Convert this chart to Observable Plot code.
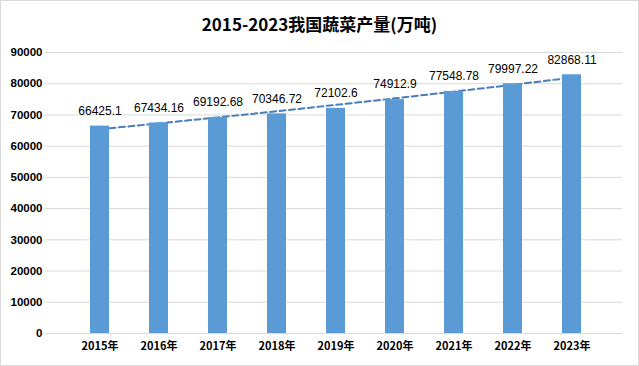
<!DOCTYPE html>
<html>
<head>
<meta charset="utf-8">
<script src="https://cdn.jsdelivr.net/npm/d3@7"></script>
<script src="https://cdn.jsdelivr.net/npm/@observablehq/plot@0.6"></script>
<style>
  html, body { margin: 0; padding: 0; background: #fff; }
  #wrap { position: relative; width: 639px; height: 366px; box-sizing: border-box; border: 1px solid #d9d9d9; background: #fff; overflow: hidden; }
  #title { height: 39px; box-sizing: border-box; padding-top: 10px; line-height: 22px; text-align: center; font: bold 17px "Noto Sans CJK SC", "Liberation Sans", sans-serif; color: #000; }
  #chart svg { display: block; }
</style>
</head>
<body>
<div id="wrap">
  <div id="title">2015-2023我国蔬菜产量(万吨)</div>
  <div id="chart"></div>
</div>
<script>
const years = ["2015年", "2016年", "2017年", "2018年", "2019年", "2020年", "2021年", "2022年", "2023年"];
const values = [66425.1, 67434.16, 69192.68, 70346.72, 72102.6, 74912.9, 77548.78, 79997.22, 82868.11];
const labels = ["66425.1", "67434.16", "69192.68", "70346.72", "72102.6", "74912.9", "77548.78", "79997.22", "82868.11"];
const yTicks = [0, 10000, 20000, 30000, 40000, 50000, 60000, 70000, 80000, 90000];

const data = years.map((y, i) => ({year: y, value: values[i], label: labels[i]}));

// Exponential trendline (least squares on ln values), as a spreadsheet trendline would
const n = values.length;
const xs = d3.range(n);
const lys = values.map(v => Math.log(v));
const mx = d3.mean(xs), my = d3.mean(lys);
const b = d3.sum(xs, (x, i) => (x - mx) * (lys[i] - my)) / d3.sum(xs, x => (x - mx) ** 2);
const a = my - b * mx;
const trend = years.map((y, i) => ({year: y, value: Math.exp(a + b * i)}));

const W = 637, H = 325;
const chart = Plot.plot({
  width: W,
  height: H,
  marginTop: 12,
  marginBottom: 32,
  marginLeft: 44,
  marginRight: 16,
  style: {fontFamily: "'Liberation Sans', Arial, sans-serif", fontSize: "11px", color: "#000", background: "#fff"},
  x: {domain: years, range: [48, 621], padding: 0.68, label: null},
  y: {domain: [0, 90000], ticks: yTicks, label: null},
  marks: [
    Plot.gridY(yTicks, {stroke: "#d9d9d9", strokeOpacity: 1, strokeWidth: 1}),
    Plot.line(trend, {x: "year", y: "value", stroke: "#4a7ebb", strokeWidth: 2, strokeDasharray: "6,3.5"}),
    Plot.barY(data, {x: "year", y: "value", fill: "#5b9bd5"}),
    Plot.text(data, {x: "year", y: "value", text: "label", dy: -15, fill: "#000", fontSize: 12}),
    Plot.axisY(yTicks, {tickSize: 0, tickPadding: 3, fontWeight: "bold", fontSize: 11.5, tickFormat: d => String(d)}),
    Plot.axisX({tickSize: 0, tickPadding: 9, fontWeight: "bold", fontSize: 11, fontFamily: "'Noto Sans CJK SC', sans-serif"})
  ]
});
document.getElementById("chart").appendChild(chart);
</script>
</body>
</html>
